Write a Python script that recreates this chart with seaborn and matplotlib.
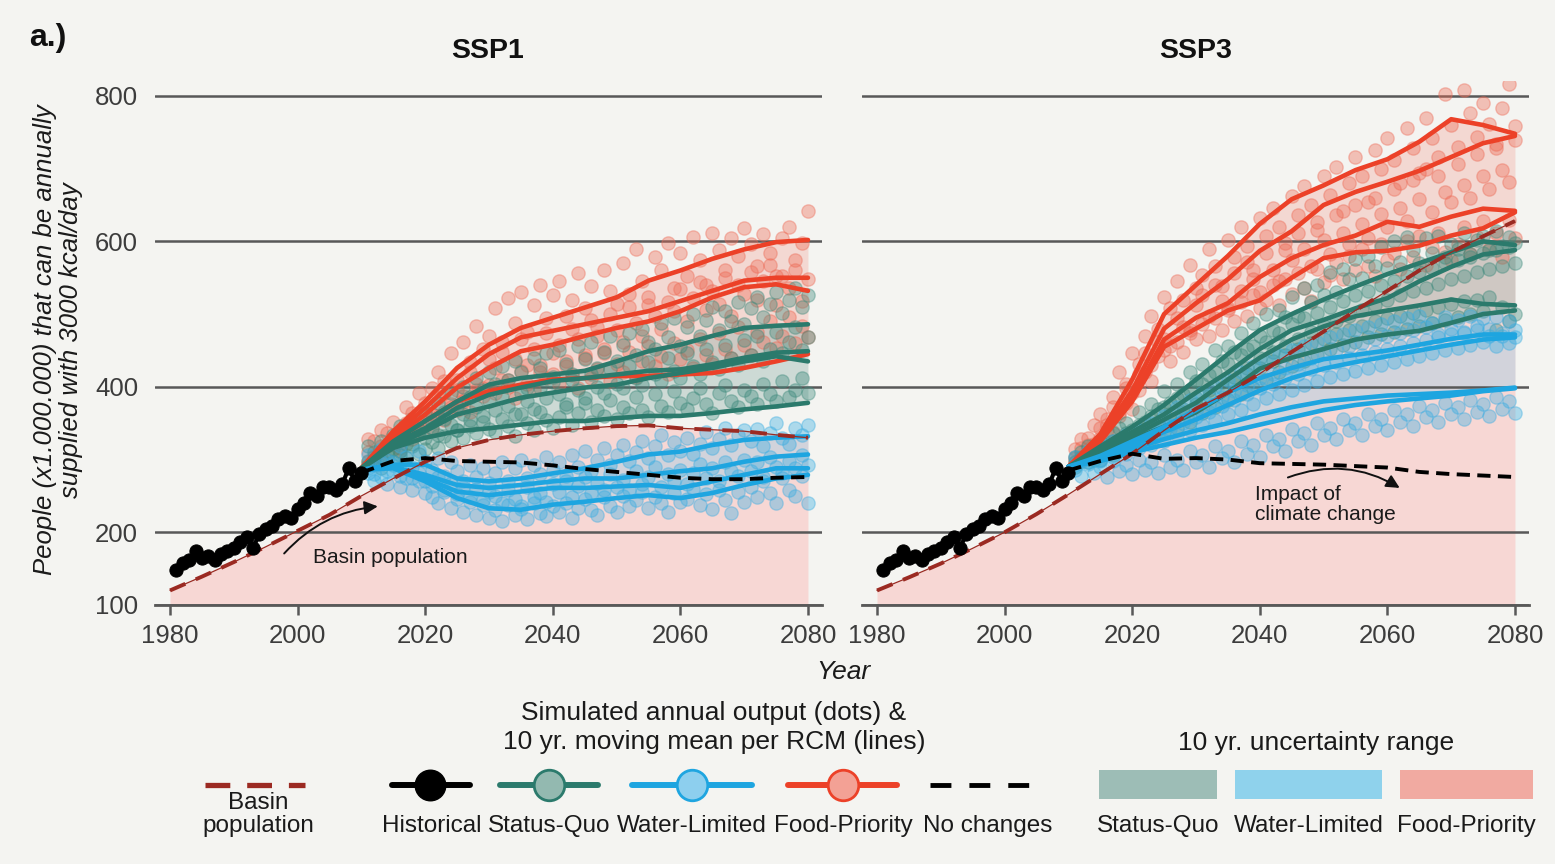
import numpy as np
import pandas as pd
import matplotlib
matplotlib.use("Agg")
import matplotlib.pyplot as plt
import seaborn as sns
from matplotlib.patches import Rectangle

# ---------------- data ----------------
hist_years = np.arange(1981, 2011)
hist_vals = [148, 158, 162, 174, 165, 168, 162, 170, 174, 178,
             186, 193, 178, 198, 205, 208, 218, 222, 220, 232,
             240, 254, 250, 262, 262, 258, 266, 288, 270, 282]

pop_years = np.arange(1980, 2081, 5)
pop_ssp1 = [120, 139, 159, 180, 202, 224, 250, 274, 297, 316, 327,
            334, 339, 343, 346, 347, 343, 341, 339, 334, 330]
pop_ssp3 = [120, 138, 157, 178, 200, 225, 252, 280, 308, 340, 370,
            392, 418, 448, 476, 505, 532, 560, 585, 607, 628]

knot_years = np.arange(2010, 2081, 5)
nochange_ssp1 = [282, 298, 302, 298, 297, 296, 292, 287, 283, 279, 275, 273, 273, 275, 276]
nochange_ssp3 = [285, 298, 308, 301, 302, 300, 295, 294, 293, 291, 289, 283, 280, 278, 276]

# 10 yr moving means per RCM (4 RCMs), read at 5-year steps
sq_ssp1 = [[288, 325, 353, 380, 403, 412, 417, 422, 435, 449, 458, 470, 481, 484, 486],
           [288, 322, 343, 371, 389, 399, 408, 412, 417, 422, 424, 431, 440, 447, 449],
           [288, 318, 339, 362, 373, 385, 392, 399, 403, 412, 419, 426, 435, 442, 435],
           [288, 316, 330, 339, 343, 348, 353, 353, 357, 360, 360, 364, 369, 373, 378]]
wl_ssp1 = [[286, 293, 293, 274, 270, 274, 281, 288, 297, 307, 311, 320, 327, 330, 332],
           [286, 290, 279, 265, 261, 265, 270, 274, 274, 279, 284, 288, 297, 304, 307],
           [286, 290, 274, 256, 251, 256, 261, 261, 263, 265, 261, 270, 279, 288, 288],
           [286, 288, 270, 247, 233, 231, 238, 242, 247, 251, 247, 254, 265, 274, 279]]
fp_ssp1 = [[288, 339, 380, 426, 458, 481, 495, 509, 523, 546, 560, 576, 589, 599, 602],
           [288, 334, 371, 412, 445, 468, 477, 486, 495, 504, 518, 532, 546, 550, 550],
           [288, 330, 362, 399, 426, 449, 458, 470, 481, 490, 504, 523, 537, 541, 532],
           [288, 325, 353, 380, 394, 403, 410, 412, 415, 415, 417, 419, 426, 435, 445]]

sq_ssp3 = [[290, 318, 345, 375, 410, 445, 478, 500, 520, 538, 555, 570, 585, 600, 595],
           [290, 315, 338, 362, 392, 420, 452, 478, 492, 508, 522, 545, 565, 582, 588],
           [290, 312, 332, 355, 378, 410, 440, 465, 483, 497, 505, 512, 520, 514, 512],
           [290, 310, 328, 345, 365, 392, 425, 440, 452, 465, 472, 477, 488, 500, 505]]
wl_ssp3 = [[290, 305, 325, 345, 368, 392, 412, 426, 438, 444, 450, 458, 466, 472, 472],
           [290, 303, 320, 338, 355, 375, 395, 412, 425, 434, 442, 450, 458, 465, 468],
           [290, 300, 315, 328, 340, 350, 362, 372, 380, 384, 388, 390, 392, 395, 399],
           [290, 298, 310, 320, 330, 338, 348, 358, 368, 375, 380, 384, 388, 394, 398]]
fp_ssp3 = [[290, 335, 410, 500, 540, 580, 624, 658, 677, 698, 713, 737, 768, 760, 748],
           [290, 330, 395, 480, 515, 548, 587, 614, 650, 668, 682, 697, 716, 735, 745],
           [290, 328, 385, 465, 495, 515, 551, 577, 595, 608, 627, 620, 634, 645, 642],
           [290, 325, 380, 455, 480, 505, 519, 550, 577, 585, 587, 594, 608, 618, 640]]

# simulated annual output (dots), 2011-2080
dot_years = np.arange(2011, 2081)
fp_dots_ssp1 = [
    [328, 305, 340, 318, 352, 338, 372, 350, 392, 366, 398, 420, 392, 446, 410, 462, 434, 484, 452, 470,
     508, 462, 522, 488, 530, 476, 512, 540, 494, 526, 546, 498, 520, 556, 508, 538, 482, 560, 532, 514,
     570, 528, 590, 546, 512, 578, 560, 598, 536, 584, 552, 606, 574, 540, 612, 588, 560, 604, 580, 618,
     596, 566, 610, 584, 552, 604, 620, 574, 598, 642],
    [310, 326, 300, 336, 328, 312, 350, 364, 340, 378, 362, 384, 408, 372, 396, 388, 420, 404, 398, 438,
     426, 448, 410, 438, 466, 430, 452, 420, 474, 446, 458, 436, 480, 466, 444, 492, 470, 452, 500, 478,
     462, 510, 488, 470, 524, 498, 480, 516, 504, 534, 490, 522, 544, 506, 532, 514, 550, 498, 540, 528,
     558, 520, 546, 568, 512, 552, 536, 560, 518, 548],
    [296, 304, 318, 300, 322, 316, 334, 328, 346, 352, 342, 360, 354, 376, 368, 380, 366, 396, 388, 402,
     392, 410, 400, 384, 422, 404, 396, 430, 412, 418, 404, 428, 416, 398, 440, 412, 424, 446, 408, 432,
     420, 448, 414, 436, 456, 428, 442, 418, 460, 438, 450, 426, 466, 444, 432, 474, 452, 440, 482, 458,
     444, 476, 462, 490, 454, 470, 496, 460, 484, 468]]
sq_dots_ssp1 = [
    [318, 300, 326, 312, 334, 346, 322, 356, 340, 364, 352, 378, 366, 392, 374, 400, 386, 412, 396, 420,
     404, 428, 410, 436, 420, 398, 440, 426, 446, 414, 450, 432, 418, 456, 438, 462, 426, 448, 470, 436,
     458, 474, 444, 480, 462, 452, 488, 468, 494, 456, 482, 500, 470, 492, 510, 478, 504, 490, 516, 486,
     508, 524, 496, 514, 530, 502, 520, 536, 510, 526],
    [298, 310, 304, 320, 314, 306, 328, 322, 336, 330, 344, 334, 356, 348, 340, 362, 354, 372, 360, 380,
     368, 386, 374, 362, 392, 380, 370, 398, 384, 406, 390, 376, 410, 396, 384, 418, 400, 392, 424, 404,
     398, 428, 412, 402, 434, 418, 408, 440, 422, 412, 446, 428, 418, 452, 434, 424, 458, 440, 430, 464,
     444, 470, 436, 452, 476, 446, 462, 482, 450, 468],
    [292, 300, 288, 306, 296, 312, 302, 318, 308, 314, 324, 316, 332, 326, 340, 330, 346, 336, 352, 342,
     338, 356, 346, 332, 362, 350, 340, 366, 354, 344, 358, 372, 348, 364, 378, 352, 368, 360, 382, 356,
     372, 364, 386, 368, 358, 390, 374, 366, 394, 378, 370, 384, 398, 376, 364, 392, 402, 380, 372, 396,
     388, 376, 404, 390, 380, 408, 386, 396, 412, 392]]
wl_dots_ssp1 = [
    [306, 292, 314, 300, 296, 318, 304, 290, 312, 298, 286, 302, 278, 296, 284, 270, 292, 276, 288, 268,
     282, 296, 270, 288, 300, 274, 292, 280, 304, 286, 296, 278, 306, 290, 312, 284, 300, 316, 292, 306,
     320, 298, 310, 326, 302, 318, 334, 306, 324, 312, 330, 308, 322, 338, 316, 328, 344, 320, 334, 340,
     326, 342, 318, 336, 350, 330, 322, 344, 334, 348],
    [288, 280, 296, 284, 292, 278, 288, 274, 282, 270, 264, 276, 258, 268, 252, 262, 248, 260, 244, 256,
     250, 240, 258, 246, 236, 262, 248, 254, 242, 266, 256, 270, 248, 264, 276, 254, 268, 258, 280, 262,
     272, 258, 284, 266, 276, 290, 262, 280, 270, 286, 266, 282, 294, 274, 288, 270, 296, 284, 278, 300,
     284, 296, 276, 304, 290, 282, 298, 288, 306, 292],
    [282, 270, 276, 266, 284, 262, 274, 258, 270, 254, 248, 240, 256, 234, 246, 228, 242, 224, 238, 220,
     230, 216, 238, 224, 232, 218, 240, 226, 222, 236, 228, 240, 220, 234, 246, 230, 224, 248, 236, 228,
     250, 236, 244, 256, 234, 248, 240, 228, 254, 242, 246, 260, 238, 252, 232, 258, 244, 226, 256, 242,
     262, 248, 270, 254, 240, 274, 258, 250, 278, 240]]

fp_dots_ssp3 = [
    [314, 328, 306, 348, 362, 340, 386, 420, 398, 446, 432, 470, 498, 462, 524, 508, 546, 520, 568, 536,
     554, 590, 566, 538, 602, 578, 620, 594, 560, 632, 608, 646, 620, 588, 662, 636, 676, 650, 616, 690,
     664, 702, 642, 680, 716, 690, 654, 726, 700, 742, 712, 680, 756, 728, 694, 770, 742, 716, 802, 760,
     730, 808, 776, 744, 790, 762, 728, 784, 816, 758],
    [302, 316, 330, 322, 344, 356, 372, 364, 404, 392, 418, 446, 430, 480, 466, 456, 494, 482, 474, 512,
     526, 498, 540, 518, 508, 556, 532, 572, 548, 530, 584, 560, 546, 598, 574, 612, 590, 566, 626, 602,
     582, 636, 612, 596, 650, 624, 604, 660, 638, 620, 672, 646, 628, 684, 658, 700, 640, 690, 668, 654,
     706, 678, 660, 720, 690, 672, 734, 698, 682, 740],
    [296, 304, 320, 312, 330, 348, 338, 360, 378, 370, 396, 420, 408, 442, 450, 436, 462, 448, 478, 466,
     486, 470, 494, 478, 506, 490, 516, 498, 526, 508, 520, 540, 512, 548, 528, 556, 536, 518, 562, 544,
     554, 572, 548, 580, 560, 590, 566, 552, 596, 574, 584, 562, 600, 578, 608, 568, 592, 612, 586, 574,
     596, 620, 582, 606, 628, 590, 612, 578, 630, 604]]
sq_dots_ssp3 = [
    [304, 298, 318, 306, 326, 322, 336, 344, 350, 340, 366, 352, 376, 370, 394, 378, 404, 390, 420, 408,
     432, 416, 450, 436, 456, 448, 474, 452, 488, 470, 500, 478, 506, 496, 524, 498, 536, 516, 540, 526,
     558, 530, 562, 548, 576, 550, 580, 566, 592, 564, 600, 572, 606, 588, 570, 604, 584, 608, 578, 596,
     590, 612, 582, 602, 608, 588, 614, 594, 606, 598],
    [296, 310, 304, 300, 318, 314, 326, 322, 336, 330, 348, 342, 360, 352, 372, 362, 384, 370, 396, 384,
     404, 396, 420, 406, 432, 414, 444, 426, 456, 440, 462, 448, 474, 456, 486, 466, 494, 476, 502, 484,
     510, 490, 518, 498, 526, 506, 532, 512, 540, 520, 546, 526, 552, 532, 558, 536, 564, 542, 570, 548,
     574, 552, 578, 558, 584, 562, 588, 566, 592, 570],
    [290, 302, 296, 308, 300, 312, 306, 318, 314, 324, 320, 334, 328, 346, 338, 356, 344, 366, 352, 376,
     364, 388, 372, 398, 382, 408, 390, 418, 398, 426, 410, 436, 420, 444, 428, 452, 436, 460, 444, 466,
     452, 472, 458, 478, 462, 484, 468, 490, 472, 494, 476, 498, 480, 502, 484, 506, 488, 510, 492, 514,
     496, 518, 500, 520, 504, 524, 478, 510, 490, 500]]
wl_dots_ssp3 = [
    [304, 296, 312, 306, 300, 318, 326, 314, 334, 322, 340, 332, 350, 344, 360, 348, 372, 358, 382, 368,
     392, 376, 400, 386, 410, 394, 420, 402, 428, 412, 436, 418, 444, 426, 450, 432, 456, 440, 462, 446,
     468, 450, 472, 456, 478, 460, 482, 466, 486, 470, 490, 474, 494, 478, 498, 482, 488, 472, 496, 480,
     492, 476, 498, 484, 494, 480, 496, 470, 490, 478],
    [292, 300, 296, 304, 298, 310, 304, 314, 308, 320, 316, 326, 320, 334, 326, 342, 334, 350, 340, 358,
     348, 366, 354, 374, 362, 382, 368, 390, 376, 398, 384, 404, 390, 412, 396, 418, 402, 424, 408, 430,
     414, 434, 418, 440, 422, 444, 426, 448, 430, 452, 434, 456, 438, 460, 442, 464, 446, 468, 450, 472,
     454, 474, 458, 478, 462, 470, 456, 474, 460, 468],
    [286, 278, 294, 282, 290, 276, 298, 284, 292, 280, 300, 286, 296, 282, 306, 290, 300, 286, 312, 296,
     306, 290, 318, 302, 312, 296, 326, 308, 320, 304, 334, 318, 328, 312, 342, 326, 336, 320, 350, 334,
     344, 328, 356, 340, 350, 334, 362, 346, 356, 340, 368, 352, 362, 346, 374, 358, 368, 352, 378, 362,
     372, 356, 382, 366, 376, 360, 386, 370, 380, 364]]

scenarios = ["Food-Priority", "Status-Quo", "Water-Limited"]
lines = {"SSP1": {"Status-Quo": sq_ssp1, "Water-Limited": wl_ssp1, "Food-Priority": fp_ssp1},
         "SSP3": {"Status-Quo": sq_ssp3, "Water-Limited": wl_ssp3, "Food-Priority": fp_ssp3}}
dots = {"SSP1": {"Status-Quo": sq_dots_ssp1, "Water-Limited": wl_dots_ssp1, "Food-Priority": fp_dots_ssp1},
        "SSP3": {"Status-Quo": sq_dots_ssp3, "Water-Limited": wl_dots_ssp3, "Food-Priority": fp_dots_ssp3}}
pops = {"SSP1": pop_ssp1, "SSP3": pop_ssp3}
nochange = {"SSP1": nochange_ssp1, "SSP3": nochange_ssp3}

lines_df = pd.DataFrame(
    [(p, s, r, y, v) for p, dd in lines.items() for s, arr in dd.items()
     for r, row in enumerate(arr) for y, v in zip(knot_years, row)],
    columns=["panel", "scenario", "rcm", "year", "value"])
dots_df = pd.DataFrame(
    [(p, s, r, y, v) for p, dd in dots.items() for s, arr in dd.items()
     for r, row in enumerate(arr) for y, v in zip(dot_years, row)],
    columns=["panel", "scenario", "rcm", "year", "value"])

# ---------------- styling ----------------
BG = "#f4f4f1"
GRID = "#585858"
TXT = "#3c3c3c"
BASIN = "#9b2a22"
BASE_PINK = "#f7d7d4"
LINE = {"Status-Quo": "#2b7a6c", "Water-Limited": "#1ea5e0", "Food-Priority": "#ec4128"}
DOT = {"Status-Quo": "#3d8a7c", "Water-Limited": "#39ade2", "Food-Priority": "#ee6a55"}
BAND = {"Status-Quo": "#8fb0a8", "Water-Limited": "#7fcdee", "Food-Priority": "#f29a8c"}
BAND_A = {"Status-Quo": 0.38, "Water-Limited": 0.30, "Food-Priority": 0.30}
LEG_PATCH = {"Status-Quo": "#9dbdb6", "Water-Limited": "#8fd2ec", "Food-Priority": "#f1aaa1"}
LEG_FACE = {"Status-Quo": "#93b9b0", "Water-Limited": "#8dcfee", "Food-Priority": "#f3a195"}

sns.set_theme(style="white")
plt.rcParams["font.family"] = ["Liberation Sans", "DejaVu Sans"]

W, H = 1555, 864
fig = plt.figure(figsize=(W / 100, H / 100), dpi=100, facecolor=BG)
ax_h = (605 - 81.4) / H
axL = fig.add_axes([154.7 / W, 1 - 605 / H, 667.3 / W, ax_h])
axR = fig.add_axes([861.7 / W, 1 - 605 / H, 667.3 / W, ax_h])

for ax, panel in [(axL, "SSP1"), (axR, "SSP3")]:
    ax.set_facecolor(BG)
    ax.fill_between(pop_years, 100, pops[panel], color=BASE_PINK, lw=0, zorder=0.2)
    for s in scenarios:
        arr = np.array(lines[panel][s])
        ax.fill_between(knot_years, arr.min(axis=0), arr.max(axis=0),
                        color=BAND[s], alpha=BAND_A[s], lw=0, zorder=0.3)
    for s in scenarios:
        sub = dots_df[(dots_df.panel == panel) & (dots_df.scenario == s)]
        sns.scatterplot(data=sub, x="year", y="value", color=DOT[s], alpha=0.38, s=92,
                        edgecolor=DOT[s], linewidth=1.0, ax=ax, legend=False, zorder=2)
    for s in scenarios:
        sub = lines_df[(lines_df.panel == panel) & (lines_df.scenario == s)]
        sns.lineplot(data=sub, x="year", y="value", units="rcm", estimator=None,
                     color=LINE[s], linewidth=3.3, ax=ax, legend=False, zorder=3)
    sns.lineplot(x=pop_years, y=pops[panel], color=BASIN, linewidth=0.9, ax=ax, zorder=4)
    sns.lineplot(x=pop_years, y=pops[panel], color=BASIN, linewidth=2.8,
                 linestyle=(0, (4.3, 2.9)), ax=ax, zorder=4)
    sns.lineplot(x=knot_years, y=nochange[panel], color="black", linewidth=2.8,
                 linestyle=(0, (3.4, 1.9)), ax=ax, zorder=5)
    sns.lineplot(x=hist_years, y=hist_vals, color="black", linewidth=3, marker="o",
                 markersize=9.5, markeredgecolor="black", ax=ax, zorder=6)

    ax.set_xlim(1977.6, 2082.2)
    ax.set_ylim(100, 820)
    ax.set_xticks(range(1980, 2081, 20))
    ax.set_yticks([100, 200, 400, 600, 800])
    ax.set_axisbelow(True)
    ax.grid(axis="y", color=GRID, linewidth=1.8)
    ax.grid(axis="x", visible=False)
    for sp in ["top", "right", "left"]:
        ax.spines[sp].set_visible(False)
    ax.spines["bottom"].set_color(GRID)
    ax.spines["bottom"].set_linewidth(2)
    ax.tick_params(axis="x", bottom=True, length=7, width=1.8, color=GRID,
                   labelsize=18.5, labelcolor=TXT, pad=7, direction="out")
    ax.tick_params(axis="y", left=False, length=0, labelsize=18.5, labelcolor=TXT, pad=12)
    ax.set_xlabel("")
    ax.set_ylabel("")

axR.tick_params(axis="y", labelleft=False)

# annotations
axL.annotate("", xy=(2013, 236), xytext=(1997.6, 168),
             arrowprops=dict(arrowstyle="-|>", color="#111111", lw=1.4,
                             connectionstyle="arc3,rad=-0.2", mutation_scale=20))
axL.text(2002.4, 165, "Basin population", fontsize=15, va="center", ha="left", color="#1a1a1a")
axR.annotate("", xy=(2062.3, 259), xytext=(2044, 274),
             arrowprops=dict(arrowstyle="-|>", color="#111111", lw=1.4,
                             connectionstyle="arc3,rad=-0.25", mutation_scale=20))
axR.text(2039.2, 238, "Impact of\nclimate change", fontsize=15, va="center", ha="left",
         color="#1a1a1a", linespacing=1.05)

# figure texts
fig.text(29 / W, 1 - 38 / H, "a.)", fontsize=23, fontweight="bold", va="center", ha="left", color="#111111")
fig.text(488 / W, 1 - 51 / H, "SSP1", fontsize=20.5, fontweight="bold", va="center", ha="center", color="#111111")
fig.text(1196 / W, 1 - 51 / H, "SSP3", fontsize=20.5, fontweight="bold", va="center", ha="center", color="#111111")
fig.text(58 / W, 1 - 340 / H, "People (x1.000.000) that can be annually\nsupplied with 3000 kcal/day",
         rotation=90, ha="center", va="center", style="italic", fontsize=18.5, color="#1a1a1a",
         linespacing=1.08)
fig.text(843 / W, 1 - 672 / H, "Year", style="italic", fontsize=19, ha="center", va="center", color="#1a1a1a")

# ---------------- legend ----------------
lg = fig.add_axes([0, 0, 1, 1])
lg.set_xlim(0, W)
lg.set_ylim(H, 0)
lg.axis("off")
lg.patch.set_alpha(0)

LT = "#1a1a1a"
lg.text(714, 713, "Simulated annual output (dots) &", fontsize=19, ha="center", va="center", color=LT)
lg.text(714, 742, "10 yr. moving mean per RCM (lines)", fontsize=19, ha="center", va="center", color=LT)
lg.text(1316, 743, "10 yr. uncertainty range", fontsize=19, ha="center", va="center", color=LT)

ly = 785
lg.plot([205, 305], [ly, ly], color=BASIN, lw=3.8, ls=(0, (4.7, 3.2)))
lg.text(258, 803, "Basin", fontsize=17.5, ha="center", va="center", color=LT)
lg.text(258, 826, "population", fontsize=17.5, ha="center", va="center", color=LT)

lg.plot([392, 470], [ly, ly], color="black", lw=4.3)
lg.plot([430], [ly], marker="o", markersize=22, color="black")
lg.text(432, 826, "Historical", fontsize=17.5, ha="center", va="center", color=LT)

for s, x0, x1, xc in [("Status-Quo", 500, 598, 549), ("Water-Limited", 632, 752, 692),
                      ("Food-Priority", 788, 897, 843)]:
    lg.plot([x0, x1], [ly, ly], color=LINE[s], lw=4.3)
    lg.plot([xc], [ly], marker="o", markersize=22, markerfacecolor=LEG_FACE[s],
            markeredgecolor=LINE[s], markeredgewidth=2)
    lg.text(xc, 826, s, fontsize=17.5, ha="center", va="center", color=LT)

lg.plot([930, 1032], [ly, ly], color="black", lw=3.5, ls=(0, (4.3, 3.7)))
lg.text(988, 826, "No changes", fontsize=17.5, ha="center", va="center", color=LT)

for s, x0, x1 in [("Status-Quo", 1099, 1217), ("Water-Limited", 1235, 1382), ("Food-Priority", 1400, 1533)]:
    lg.add_patch(Rectangle((x0, 770), x1 - x0, 29, color=LEG_PATCH[s], lw=0))
    lg.text((x0 + x1) / 2, 826, s, fontsize=17.5, ha="center", va="center", color=LT)

fig.savefig("out.png", dpi=100, facecolor=BG)
